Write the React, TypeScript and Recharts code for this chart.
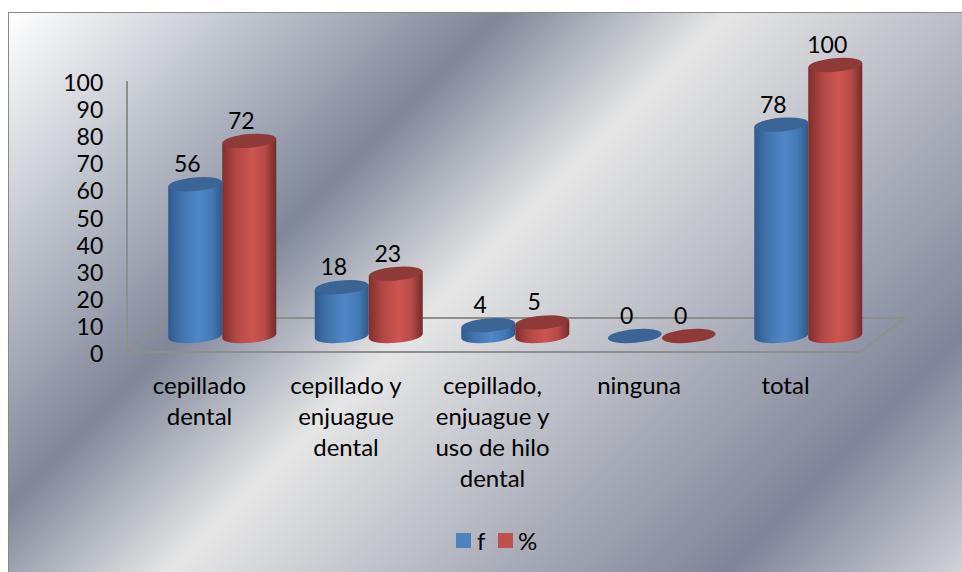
import React from "react";
import { BarChart, Bar, XAxis, YAxis, Legend, LabelList, Customized } from "recharts";

const categories = ["cepillado dental", "cepillado y enjuague dental", "cepillado, enjuague y uso de hilo dental", "ninguna", "total"];
const categoryLines = [["cepillado", "dental"], ["cepillado y", "enjuague", "dental"], ["cepillado,", "enjuague y", "uso de hilo", "dental"], ["ninguna"], ["total"]];
const fValues = [56, 18, 4, 0, 78];
const pctValues = [72, 23, 5, 0, 100];
const yTicks = [0, 10, 20, 30, 40, 50, 60, 70, 80, 90, 100];

const data = categories.map((c, i) => ({ c, i, f: fValues[i], pct: pctValues[i] }));

const FONT = "Lato, 'Open Sans', sans-serif";
const FS = 24;
const NUM_FS = 23;
const TILT = 5;

function Cyl(props: any) {
  const { x, y, width, height, grad, top } = props;
  const cx = x + width / 2;
  const rx = width / 2;
  const ry = 6.8;
  const t = (TILT * Math.PI) / 180;
  const dy = rx * Math.sin(t);
  const bottom = y + height;
  const side = `M${x},${y + dy} L${x},${bottom + dy} A${rx},${ry} ${-TILT} 0 0 ${x + width},${bottom - dy} L${x + width},${y - dy} Z`;
  return (
    <g>
      {height > 0.5 && <path d={side} fill={`url(#${grad})`} />}
      <ellipse cx={cx} cy={y} rx={rx} ry={ry} fill={top} transform={`rotate(${-TILT} ${cx} ${y})`} />
    </g>
  );
}

const Floor = () => (
  <g fill="none" stroke="#8e8e8c" strokeWidth={2}>
    <defs>
      <linearGradient id="gBlue" x1="0" y1="0" x2="1" y2="0">
        <stop offset="0" stopColor="#2f5a8e" />
        <stop offset="0.25" stopColor="#4274ad" />
        <stop offset="0.55" stopColor="#5087c8" />
        <stop offset="0.8" stopColor="#437ab5" />
        <stop offset="1" stopColor="#31598a" />
      </linearGradient>
      <linearGradient id="gRed" x1="0" y1="0" x2="1" y2="0">
        <stop offset="0" stopColor="#7e2f2c" />
        <stop offset="0.25" stopColor="#b04744" />
        <stop offset="0.55" stopColor="#cd5551" />
        <stop offset="0.8" stopColor="#b44a47" />
        <stop offset="1" stopColor="#742b29" />
      </linearGradient>
    </defs>
    <path d="M127,81 L127,352 L860,352 L905,318 L168,318 L127,352" />
  </g>
);

const XTick = (props: any) => {
  const { x, payload } = props;
  const lines = categoryLines[payload.index] ?? [payload.value];
  return (
    <text x={x - 23} y={394} textAnchor="middle" fontFamily={FONT} fontSize={FS} fill="#000">
      {lines.map((l, i) => (
        <tspan key={l} x={x - 23} dy={i === 0 ? 0 : 31}>{l}</tspan>
      ))}
    </text>
  );
};

const YTick = (props: any) => {
  const { x, y, payload } = props;
  return (
    <text x={x} y={y + 26} textAnchor="end" fontFamily={FONT} fontSize={NUM_FS} fill="#000">{payload.value}</text>
  );
};

const Lbl = (props: any) => {
  const { x, y, width, value } = props;
  return (
    <text x={x + width / 2 - 8} y={y - 12} textAnchor="middle" fontFamily={FONT} fontSize={NUM_FS} fill="#000">{value}</text>
  );
};

const LegendBody = () => (
  <div style={{ display: "flex", alignItems: "center", fontFamily: FONT, fontSize: FS, color: "#000", height: 30 }}>
    <span style={{ width: 15, height: 15, background: "#4f81bd", marginRight: 6 }} />
    <span style={{ marginRight: 12, width: 9 }}>f</span>
    <span style={{ width: 15, height: 15, background: "#c0504d", marginRight: 5 }} />
    <span>%</span>
  </div>
);

export default function App() {
  return (
    <div style={{ position: "absolute", left: 0, top: 0, width: 962, height: 572, overflow: "hidden", background: "#fff" }}>
      <div
        style={{
          position: "absolute", left: 8, top: 12, width: 960, height: 566, boxSizing: "border-box",
          border: "1.5px solid #8a8a8a",
          background: "linear-gradient(135deg, #ffffff 0%, #7f8799 32.4%, #e6e6e6 47.2%, #7f8599 83.9%, #d5d6da 100%)",
        }}
      />
      <BarChart
        width={962}
        height={572}
        data={data}
        margin={{ top: 65, right: 80.25, bottom: 36, left: 49.25 }}
        barCategoryGap={19}
        barGap={0}
        style={{ position: "absolute", left: 0, top: 0 }}
      >
        <Customized component={<Floor />} />
        <XAxis dataKey="c" height={200} interval={0} axisLine={false} tickLine={false} tick={<XTick />} />
        <YAxis width={100} domain={[0, 100]} ticks={yTicks} interval={0} axisLine={false} tickLine={false} tickSize={0} tickMargin={46} tick={<YTick />} />
        <Legend
          layout="horizontal"
          verticalAlign="middle"
          align="center"
          content={<LegendBody />}
          wrapperStyle={{ left: 456, top: 525, width: 100, height: 30 }}
        />
        <Bar dataKey="f" name="f" fill="#4f81bd" isAnimationActive={false} shape={<Cyl grad="gBlue" top="#3a6595" />}>
          <LabelList dataKey="f" content={<Lbl />} />
        </Bar>
        <Bar dataKey="pct" name="%" fill="#c0504d" isAnimationActive={false} shape={<Cyl grad="gRed" top="#8e3a38" />}>
          <LabelList dataKey="pct" content={<Lbl />} />
        </Bar>
      </BarChart>
    </div>
  );
}
